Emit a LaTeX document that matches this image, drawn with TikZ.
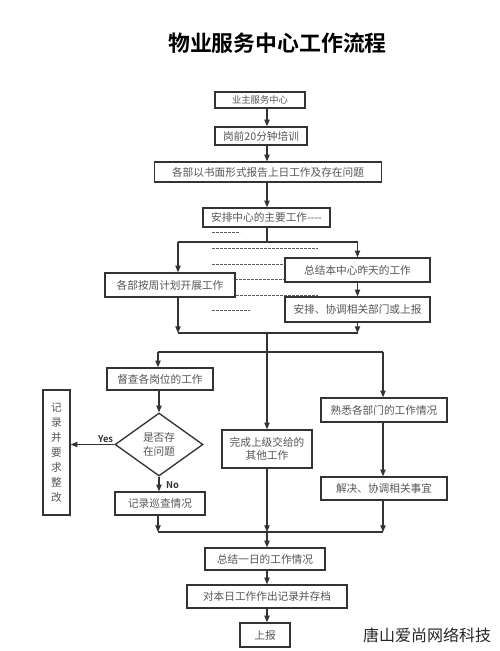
\documentclass[tikz,border=0pt]{standalone}
\usepackage{fontspec}
\setmainfont{Noto Sans CJK SC}[BoldFont={Noto Sans CJK SC Bold}]
\usetikzlibrary{arrows.meta,shapes.geometric}
\definecolor{ln}{HTML}{333333}
\definecolor{tx}{HTML}{555555}
\tikzset{
  box/.style={draw=ln,line width=1.1pt,fill=white,inner sep=0pt,text=tx,font=\fontsize{8}{10}\selectfont,align=center},
  wh/.style 2 args={minimum width=#1*0.75pt,minimum height=#2*0.75pt},
  conn/.style={draw=ln,line width=0.8pt},
  arr/.style={conn,-{Triangle[length=5pt,width=4pt]}},
  dots/.style={draw=ln!80,line width=0.7pt,dash pattern=on 2.2pt off 0.8pt},
  lab/.style={font=\fontsize{7}{8}\selectfont\bfseries,text=ln,inner sep=1pt}
}
\begin{document}
\begin{tikzpicture}[x=0.75pt,y=-0.75pt]
\useasboundingbox (0,0) rectangle (500,651);
\fill[white] (0,0) rectangle (500,651);
\node[font=\fontsize{16.4}{18}\selectfont\bfseries] (title) at (277.5,43.5) {物业服务中心工作流程};
\coordinate (ax) at (267,0);
% top chain
\node[box,wh={90}{16},font=\fontsize{7}{9}\selectfont] (b1) at (260,100) {业主服务中心};
\node[box,wh={92}{18}] (b2) at (261,136) {岗前20分钟培训};
\node[box,wh={227}{20}] (b3) at (268,172) {各部以书面形式报告上日工作及存在问题};
\node[box,wh={127}{19}] (b4) at (266.5,217.5) {安排中心的主要工作-{}-{}-{}-};
\draw[arr] (b1.south -| ax) -- (b2.north -| ax);
\draw[arr] (b2.south -| ax) -- (b3.north -| ax);
\draw[arr] (b3.south -| ax) -- (b4.north -| ax);
% dashed filler lines
\draw[dots] (212,232) -- (240,232);
\draw[dots] (212,248) -- (318,248);
\draw[dots] (212,264) -- (285,264);
\draw[dots] (235,279) -- (318,279);
\draw[dots] (212,295) -- (318,295);
\draw[dots] (212,310) -- (250,310);
% split 1
\coordinate (j1) at (267,242);
\coordinate (j1l) at (178,242);
\coordinate (j1r) at (357.5,242);
\node[box,wh={130}{24}] (bl) at (170,285) {各部按周计划开展工作};
\node[box,wh={145}{24}] (br1) at (357.5,270) {总结本中心昨天的工作};
\node[box,wh={145}{25}] (br2) at (357.5,309.5) {安排、协调相关部门或上报};
\draw[conn] (b4.south -| ax) -- (j1);
\draw[conn] (j1l) -- (j1r);
\draw[arr] (j1l) -- (bl.north -| j1l);
\draw[arr] (j1r) -- (br1.north -| j1r);
\draw[arr] (br1.south -| j1r) -- (br2.north -| j1r);
% merge 2
\coordinate (j2l) at (178,333);
\coordinate (j2r) at (357.5,333);
\coordinate (j2) at (267,333);
\coordinate (j3) at (267,352);
\coordinate (j3l) at (158,352);
\coordinate (j3r) at (383,352);
\draw[arr] (bl.south -| j2l) -- (j2l);
\draw[arr] (br2.south -| j2r) -- (j2r);
\draw[conn] (j2l) -- (j2r);
\draw[conn] (j2) -- (j3);
\draw[conn] (j3l) -- (j3r);
% left column
\node[box,wh={106}{22}] (c1) at (160,379) {督查各岗位的工作};
\node[box,shape=diamond,wh={88}{63},line width=1pt] (dq) at (159,444.5) {是否存\\在问题};
\node[box,wh={27}{125},font=\fontsize{8}{11.3}\selectfont] (rv) at (56.5,452.5) {记\\录\\并\\要\\求\\整\\改};
\node[box,wh={90}{23}] (c2) at (160,503.5) {记录巡查情况};
\draw[arr] (j3l) -- (c1.north -| j3l);
\draw[arr] (c1.south -| dq.north) -- (dq.north);
\draw[arr] (dq.west) -- (dq.west -| rv.east) node[lab,pos=0.2,above] {Yes};
\draw[arr] (dq.south) -- (dq.south |- c2.north) node[lab,pos=0.55,right=4pt] {No};
% middle column
\node[box,wh={90}{38}] (m1) at (267,449) {完成上级交给的\\其他工作};
\draw[arr] (j3) -- (m1.north);
% right column
\node[box,wh={126}{24}] (r1) at (384,410) {熟悉各部门的工作情况};
\node[box,wh={126}{23}] (r2) at (384,488.5) {解决、协调相关事宜};
\draw[arr] (j3r) -- (r1.north -| j3r);
\draw[arr] (r1.south -| j3r) -- (r2.north -| j3r);
% merge 4
\coordinate (j4l) at (158,532);
\coordinate (j4) at (267,532);
\coordinate (j4r) at (383,532);
\draw[arr] (c2.south -| j4l) -- (j4l);
\draw[arr] (m1.south) -- (j4);
\draw[arr] (r2.south -| j4r) -- (j4r);
\draw[conn] (j4l) -- (j4r);
% bottom chain
\node[box,wh={120}{22}] (e1) at (265,559) {总结一日的工作情况};
\node[box,wh={160}{23}] (e2) at (267,596.5) {对本日工作作出记录并存档};
\node[box,wh={50}{24}] (e3) at (265,635) {上报};
\draw[arr] (j4) -- (e1.north -| ax);
\draw[arr] (e1.south -| ax) -- (e2.north -| ax);
\draw[arr] (e2.south -| ax) -- (e3.north -| ax);
\node[font=\fontsize{12}{14}\selectfont,text=black!85] (wm) at (427,635) {唐山爱尚网络科技};
\end{tikzpicture}
\end{document}
